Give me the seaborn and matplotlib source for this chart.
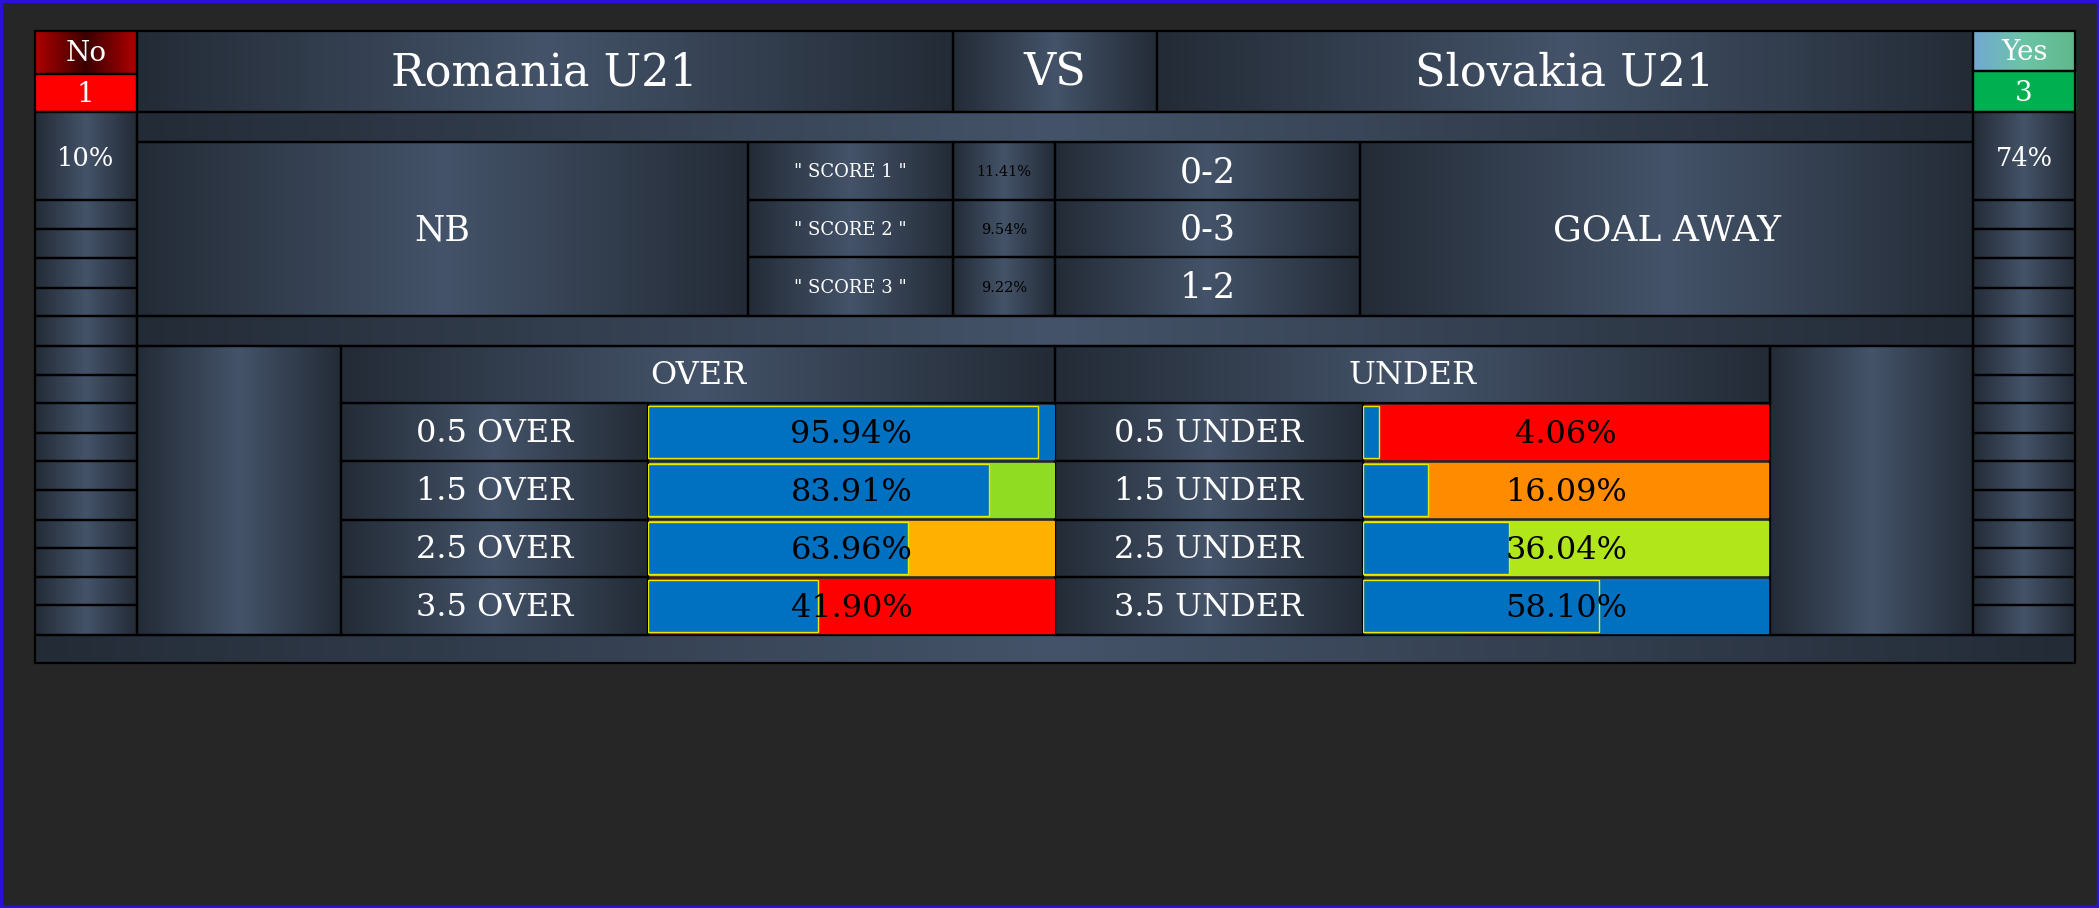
import numpy as np
import pandas as pd
import matplotlib.pyplot as plt
import seaborn as sns
from matplotlib.colors import LinearSegmentedColormap
from matplotlib.patches import Rectangle

# 데이터
home_team = "Romania U21"
away_team = "Slovakia U21"
home_flag, home_num, home_pct = "No", "1", "10%"
away_flag, away_num, away_pct = "Yes", "3", "74%"
left_tip = "NB"
right_tip = "GOAL AWAY"
score_names = ['" SCORE 1 "', '" SCORE 2 "', '" SCORE 3 "']
score_pcts = ["11.41%", "9.54%", "9.22%"]
score_lines = ["0-2", "0-3", "1-2"]
over_labels = ["0.5 OVER", "1.5 OVER", "2.5 OVER", "3.5 OVER"]
over_values = [95.94, 83.91, 63.96, 41.90]
over_bg = ["#0070c0", "#8fdc22", "#ffb000", "#ff0000"]
under_labels = ["0.5 UNDER", "1.5 UNDER", "2.5 UNDER", "3.5 UNDER"]
under_values = [4.06, 16.09, 36.04, 58.10]
under_bg = ["#ff0000", "#ff8c00", "#b0e61a", "#0070c0"]

W, H = 1568, 678
FONT = "DejaVu Serif"
sns.set_theme(style="white")
plt.rcParams["font.family"] = [FONT, "DejaVu Sans"]

fig = plt.figure(figsize=(20.99, 9.08), dpi=100, facecolor="#262626")
ax = fig.add_axes([0, 0, 1, 1])
ax.set_xlim(0, W)
ax.set_ylim(H, 0)
ax.axis("off")

steel = LinearSegmentedColormap.from_list("steel", ["#232b36", "#445369", "#232b36"])
red_cm = LinearSegmentedColormap.from_list("redc", ["#b00000", "#3a0000", "#b00000"])
yes_cm = LinearSegmentedColormap.from_list("yesc", ["#72a8d2", "#6cc4a6", "#5fb88c"])
grad = np.linspace(0, 1, 256).reshape(1, -1)


def cell(x0, y0, x1, y1, text="", size=20, color="white", cmap=steel, face=None):
    if face is None:
        ax.imshow(grad, cmap=cmap, aspect="auto", extent=[x0, x1, y1, y0], zorder=1)
    else:
        ax.add_patch(Rectangle((x0, y0), x1 - x0, y1 - y0, color=face, zorder=1))
    ax.add_patch(Rectangle((x0, y0), x1 - x0, y1 - y0, fill=False, ec="black", lw=1.6, zorder=3))
    if text:
        ax.text((x0 + x1) / 2, (y0 + y1) / 2 + 1, text, ha="center", va="center",
                fontsize=size, color=color, zorder=4)


# 바깥 테두리
ax.add_patch(Rectangle((0.5, 0.5), W - 1, H - 1, fill=False, ec="#2a10d8", lw=2.5, zorder=5))

# 첫 줄
cell(26, 23, 102, 55, home_flag, 20, cmap=red_cm)
cell(26, 55, 102, 84, home_num, 20, face="#ff0000")
cell(102, 23, 712, 84, home_team, 32)
cell(712, 23, 864, 84, "VS", 32)
cell(864, 23, 1474, 84, away_team, 32)
cell(1474, 23, 1550, 53, away_flag, 20, cmap=yes_cm)
cell(1474, 53, 1550, 84, away_num, 20, face="#00b050")

# 양쪽 기둥
side_rows = [149, 171, 193, 215, 236, 258, 280, 301, 323, 344, 366, 388, 409, 431, 452, 474]
cell(26, 84, 102, 149)
cell(1474, 84, 1550, 149)
ax.text(64, 118, home_pct, ha="center", va="center", fontsize=18.5, color="white", zorder=4)
ax.text(1512, 118, away_pct, ha="center", va="center", fontsize=18.5, color="white", zorder=4)
for a, b in zip(side_rows[:-1], side_rows[1:]):
    cell(26, a, 102, b)
    cell(1474, a, 1550, b)

# 스코어 영역
cell(102, 84, 1474, 106)
cell(102, 106, 559, 236, left_tip, 25)
cell(1016, 106, 1474, 236, right_tip, 26)
rows = [106, 149, 192, 236]
for i in range(3):
    cell(559, rows[i], 712, rows[i + 1], score_names[i], 13)
    cell(712, rows[i], 788, rows[i + 1], score_pcts[i], 10.5, color="black")
    cell(788, rows[i], 1016, rows[i + 1], score_lines[i], 25)
cell(102, 236, 1474, 258)

# 오버/언더 영역
cell(102, 258, 255, 474)
cell(1322, 258, 1474, 474)
cell(255, 258, 788, 301, "OVER", 23)
cell(788, 258, 1322, 301, "UNDER", 23)
brow = [301, 344, 388, 431, 474]
for i in range(4):
    cell(255, brow[i], 484, brow[i + 1], over_labels[i], 23)
    cell(788, brow[i], 1018, brow[i + 1], under_labels[i], 23)
cell(26, 474, 1550, 495)


def bar_block(x0, x1, labels, values, bgs):
    bx = fig.add_axes([x0 / W, 1 - 474 / H, (x1 - x0) / W, (474 - 301) / H])
    df = pd.DataFrame({"label": labels, "value": values})
    for i, c in enumerate(bgs):
        bx.axhspan(i - 0.47, i + 0.47, xmin=0.003, xmax=0.997, color=c, zorder=0)
    sns.barplot(data=df, x="value", y="label", orient="h", color="#0070c0",
                saturation=1, width=0.9, edgecolor="#e8e800", linewidth=1, ax=bx, zorder=2)
    for i, v in enumerate(values):
        bx.text(50, i + 0.04, f"{v:.2f}%", ha="center", va="center", fontsize=23,
                color="black", zorder=4)
    bx.set_xlim(0, 100)
    bx.set_ylim(3.5, -0.5)
    bx.set_facecolor("black")
    bx.axis("off")


bar_block(484, 788, over_labels, over_values, over_bg)
bar_block(1018, 1322, under_labels, under_values, under_bg)

fig.savefig("out.png", dpi=100, facecolor=fig.get_facecolor())
